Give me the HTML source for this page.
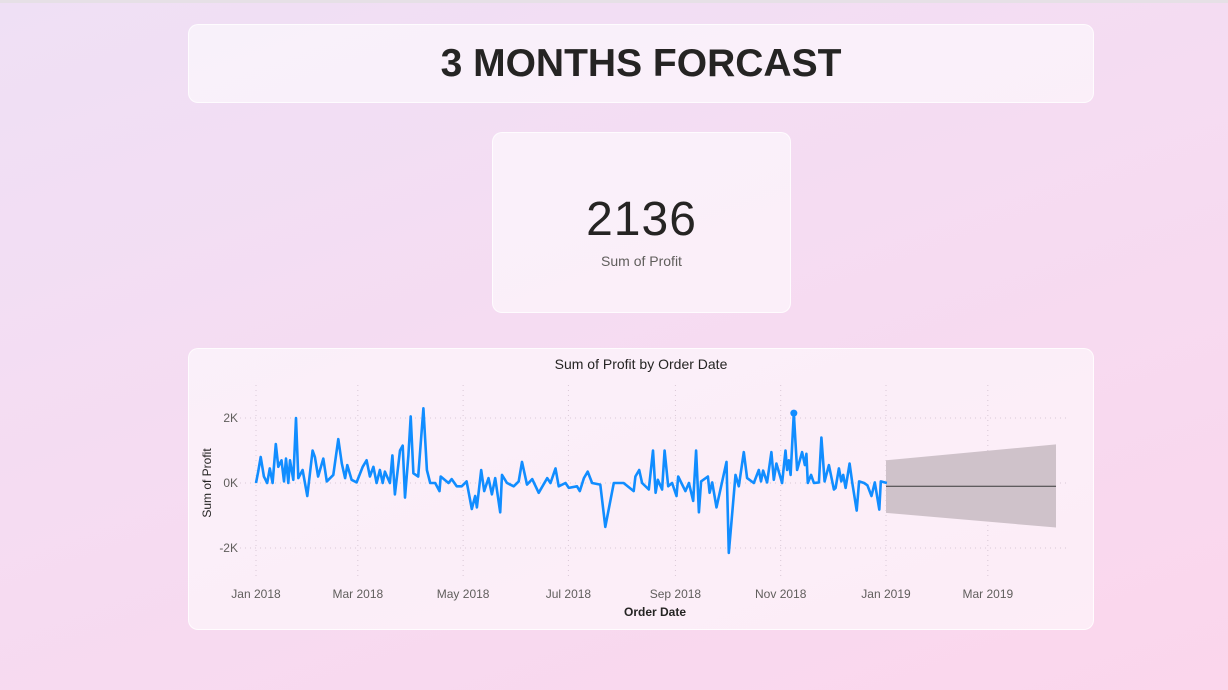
<!DOCTYPE html>
<html><head><meta charset="utf-8"><style>
html,body{margin:0;padding:0;width:1228px;height:690px;overflow:hidden}
body{background:linear-gradient(160deg,#efe0f5 0%,#f5dcf2 45%,#fbd6ec 100%);font-family:"Liberation Sans","DejaVu Sans",sans-serif;position:relative}
.card{position:absolute;background:rgba(255,255,255,0.55);border:1px solid rgba(255,255,255,0.8);border-radius:10px}
</style></head><body>
<div style="position:absolute;left:0;top:0;width:1228px;height:3px;background:#e6e0e6"></div>
<div class="card" style="left:188px;top:24px;width:904px;height:77px">
<div style="text-align:center;font-weight:bold;font-size:39px;line-height:77px;color:#252423">3 MONTHS FORCAST</div></div>
<div class="card" style="left:492px;top:132px;width:297px;height:179px">
<div style="position:absolute;left:0;right:0;top:59px;text-align:center;font-size:48px;color:#252423;letter-spacing:1px">2136</div>
<div style="position:absolute;left:0;right:0;top:120px;text-align:center;font-size:14px;color:#605e5c">Sum of Profit</div></div>
<div class="card" style="left:188px;top:348px;width:904px;height:280px"></div>
<svg id="chart" width="1228" height="690" style="position:absolute;left:0;top:0">
<text x="641" y="369" text-anchor="middle" font-size="14" fill="#252423">Sum of Profit by Order Date</text>
<text x="655" y="616" text-anchor="middle" font-size="12" font-weight="bold" fill="#252423">Order Date</text>
<text transform="translate(211,483) rotate(-90)" text-anchor="middle" font-size="12" fill="#252423">Sum of Profit</text>
</svg>
<script>
const monthLabels=["Jan 2018","Mar 2018","May 2018","Jul 2018","Sep 2018","Nov 2018","Jan 2019","Mar 2019"];
const monthDays=[0,59,120,181,243,304,365,424];
const yTicks=[2,0,-2];
const yTickLabels=["2K","0K","-2K"];
const days=[0,1.3,2.7,4.6,6.5,8,9.6,11.5,12.9,14.8,16.2,17.4,18.7,19.7,21.6,23.2,24.5,27,29.7,32.8,34.1,36,39,41,44.8,47.7,49.7,51.6,52.9,55.4,58.3,61.8,64.1,66,68,69.9,71.8,73.4,74.7,77.6,79,80.5,83.4,85,86.3,88.3,89.6,91.2,94,97,99,100.9,103.8,106.3,107,111.5,113.4,116.3,119.2,122,125,127,128,130.5,132.2,134.7,136.7,138.6,141.5,142.5,145.4,149.3,152.2,154.1,157,160,163.8,168.7,170.6,173.5,175.4,179.3,181.2,186,187.6,190,192.2,194.7,199.5,202.4,207.3,213,218.8,219.8,222,223.7,227.6,230,231.5,232.8,235.3,236.7,238.8,241.1,243.6,244.6,248.8,250.8,253.3,255,256.6,257.9,261.8,262.8,264.3,266.8,272.6,273.9,277.8,279.7,282.6,284.5,288.4,291.3,292.6,293.8,296.1,298.6,300,301.5,304.8,306.8,307.7,308.7,309.7,311.6,313.5,316.4,318,318.9,319.7,321.6,323.2,326.1,327.6,329.4,331.9,334.8,335.8,337.7,339.1,340.2,341.6,343.9,345.5,348,349.4,352.3,354.2,356.6,358.5,361.1,362,365.5];
const profitK=[0,0.35,0.8,0.2,0,0.45,0,1.2,0.5,0.7,0.05,0.75,0,0.7,0.1,2.0,0.15,0.4,-0.4,1.0,0.8,0.2,0.75,0.05,0.25,1.35,0.6,0.15,0.55,0.1,0.02,0.5,0.7,0.2,0.5,0,0.4,0,0.35,0,0.85,-0.35,1.0,1.15,-0.45,0.85,2.05,0.3,0.2,2.3,0.4,0,0,-0.25,0.2,0,0.12,-0.1,-0.1,0.05,-0.8,-0.4,-0.75,0.4,-0.25,0.15,-0.35,0.15,-0.9,0.25,0,-0.1,0.05,0.65,-0.05,0.12,-0.3,0.15,0,0.45,-0.1,0,-0.15,-0.1,-0.25,0.15,0.35,0,-0.05,-1.35,0,0,-0.25,0.2,0.4,0,-0.2,1.0,-0.3,0.1,-0.2,1.0,-0.1,0,-0.4,0.2,-0.25,0,-0.55,1.0,-0.9,0.05,0.2,-0.3,0.02,-0.75,0.65,-2.15,0.25,-0.1,0.95,0.15,0,0.4,0.05,0.38,0.02,0.95,0.1,0.6,0,1.0,0.4,0.7,0.25,2.15,0.4,0.95,0.55,0.9,0,0.25,0,0.02,1.4,0.05,0.55,-0.2,-0.15,0.45,0.05,0.25,-0.15,0.6,0,-0.85,0.05,0,-0.07,-0.4,0.02,-0.82,0.05,0];
const fcDays=[365,463.5];
const fcMid=[-0.1,-0.1];
const fcUpper=[0.7,1.19];
const fcLower=[-0.92,-1.37];
const markerAfterDay=300;

const NS="http://www.w3.org/2000/svg";
const svg=document.getElementById('chart');
const xs=d=>256+d*(630/365);
const ys=v=>483-v*32.5;
function mk(tag,attrs){const e=document.createElementNS(NS,tag);for(const k in attrs)e.setAttribute(k,attrs[k]);svg.appendChild(e);return e;}
yTicks.forEach((t,i)=>{
 const g=mk('line',{x1:240,x2:1066,y1:ys(t),y2:ys(t),stroke:'#d9c8d6','stroke-dasharray':'1 4','stroke-width':1});
 
 
 const l=mk('text',{x:238,y:ys(t)+4,'text-anchor':'end','font-size':12,fill:'#605e5c'});l.textContent=yTickLabels[i];
 
 
});
monthDays.forEach((d,i)=>{
 const g=mk('line',{x1:xs(d),x2:xs(d),y1:385,y2:580,stroke:'#d9c8d6','stroke-dasharray':'1 4','stroke-width':1});
 
 
 const l=mk('text',{x:xs(d),y:598,'text-anchor':'middle','font-size':12,fill:'#605e5c'});l.textContent=monthLabels[i];
 
 
});
let band='M'+xs(fcDays[0])+','+ys(fcUpper[0])+' L'+xs(fcDays[1])+','+ys(fcUpper[1])+' L'+xs(fcDays[1])+','+ys(fcLower[1])+' L'+xs(fcDays[0])+','+ys(fcLower[0])+' Z';
const b=mk('path',{d:band,fill:'#cfc2ca'});


const fl=mk('line',{x1:xs(fcDays[0]),y1:ys(fcMid[0]),x2:xs(fcDays[1]),y2:ys(fcMid[1]),stroke:'#3a3a3a','stroke-width':1});


const pts=days.map((d,i)=>xs(d).toFixed(1)+','+ys(profitK[i]).toFixed(1)).join(' ');
const pl=mk('polyline',{points:pts,fill:'none',stroke:'#118dff','stroke-width':2.6,'stroke-linejoin':'round'});


let pk=-1;days.forEach((d,i)=>{if(d>markerAfterDay&&(pk<0||profitK[i]>profitK[pk]))pk=i;});
const c=mk('circle',{cx:xs(days[pk]),cy:ys(profitK[pk]),r:3.5,fill:'#118dff'});


</script>
</body></html>
